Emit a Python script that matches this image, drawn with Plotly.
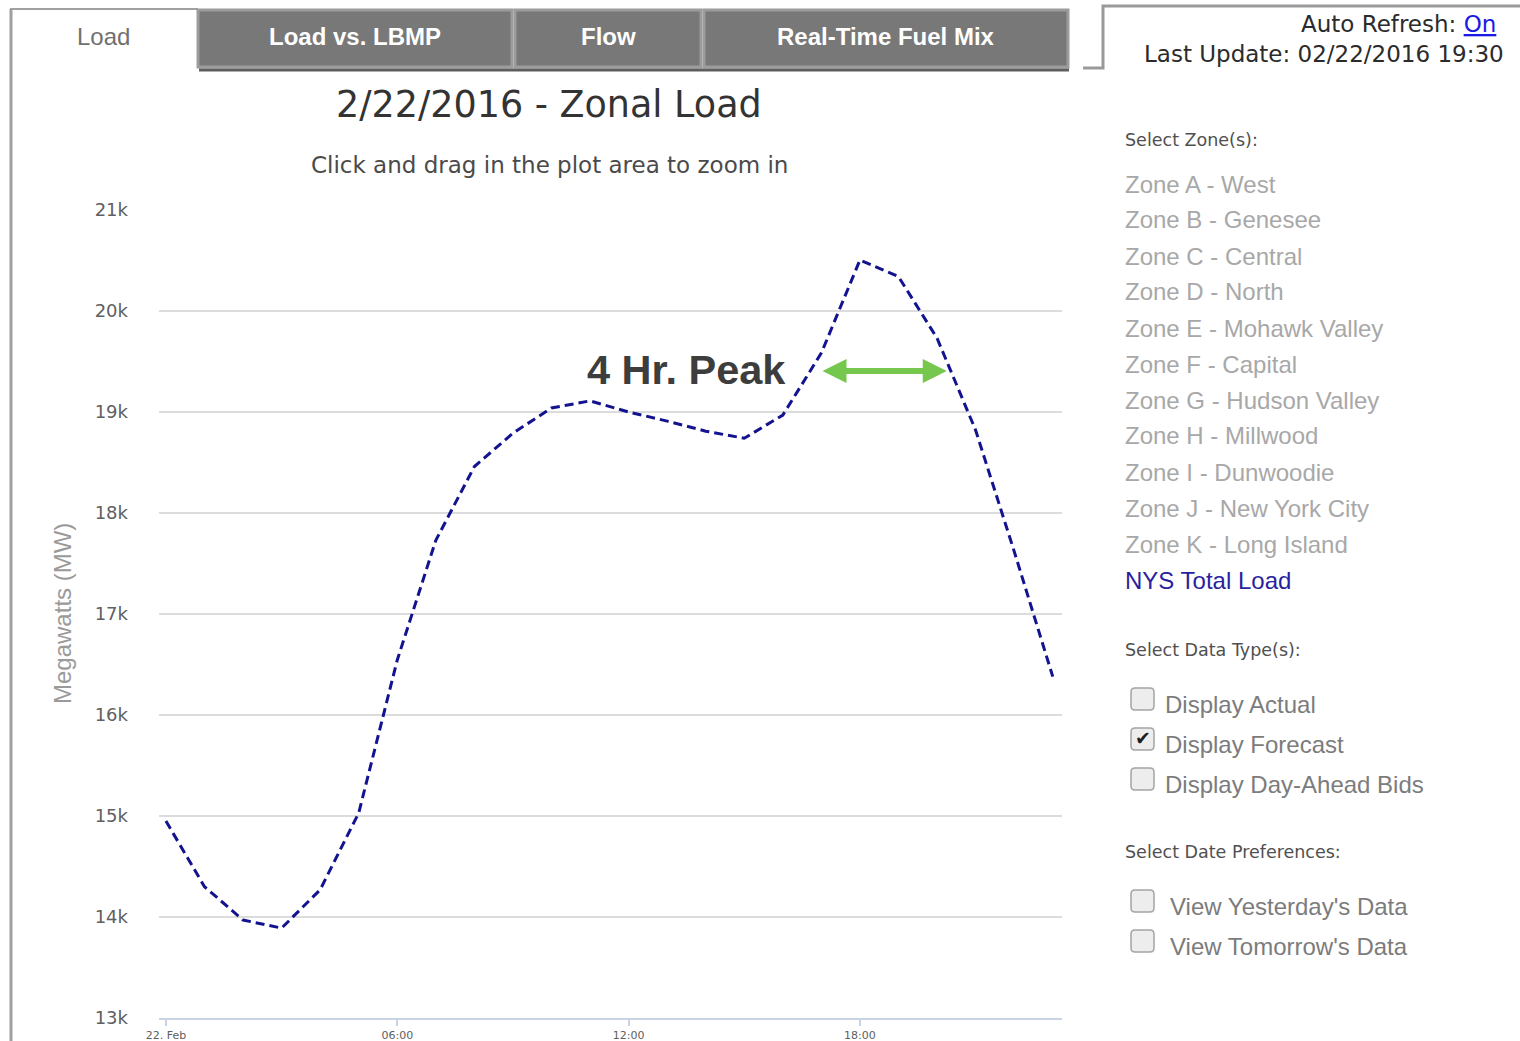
import plotly.graph_objects as go

W, H = 1520, 1041

# ---------------- data ----------------
hours = list(range(24))
forecast_mw = [14950, 14300, 13970, 13890, 14270, 15030, 16545, 17730,
               18460, 18790, 19040, 19110, 19000, 18910, 18810, 18740,
               18970, 19585, 20505, 20340, 19730, 18820, 17620, 16380]
ytick_vals = [13000, 14000, 15000, 16000, 17000, 18000, 19000, 20000, 21000]
ytick_text = ["13k", "14k", "15k", "16k", "17k", "18k", "19k", "20k", "21k"]
xtick_vals = [0, 6, 12, 18]
xtick_text = ["22. Feb", "06:00", "12:00", "18:00"]

title_text = "2/22/2016 - Zonal Load"
subtitle_text = "Click and drag in the plot area to zoom in"
yaxis_title = "Megawatts (MW)"
peak_label = "4 Hr. Peak"
peak_start_hour = 16.99
peak_end_hour = 20.25
peak_arrow_level = 19406

tabs = ["Load", "Load vs. LBMP", "Flow", "Real-Time Fuel Mix"]
zones = ["Zone A - West", "Zone B - Genesee", "Zone C - Central", "Zone D - North",
         "Zone E - Mohawk Valley", "Zone F - Capital", "Zone G - Hudson Valley",
         "Zone H - Millwood", "Zone I - Dunwoodie", "Zone J - New York City",
         "Zone K - Long Island", "NYS Total Load"]
data_types = ["Display Actual", "Display Forecast", "Display Day-Ahead Bids"]
data_types_checked = [False, True, False]
date_prefs = ["View Yesterday's Data", "View Tomorrow's Data"]
date_prefs_checked = [False, False]
last_update = "02/22/2016 19:30"


def px(x):
    return x / W


def py(y):
    return 1 - y / H


def rrect(x0, y0, x1, y1, r):
    pts = [
        ("M", [(x0 + r, y0)]), ("L", [(x1 - r, y0)]), ("Q", [(x1, y0), (x1, y0 + r)]),
        ("L", [(x1, y1 - r)]), ("Q", [(x1, y1), (x1 - r, y1)]), ("L", [(x0 + r, y1)]),
        ("Q", [(x0, y1), (x0, y1 - r)]), ("L", [(x0, y0 + r)]), ("Q", [(x0, y0), (x0 + r, y0)]),
    ]
    s = ""
    for cmd, ps in pts:
        s += cmd + " " + " ".join(f"{px(a):.6f},{py(b):.6f}" for a, b in ps) + " "
    return s + "Z"


fig = go.Figure()
fig.add_trace(go.Scatter(
    x=hours, y=forecast_mw, mode="lines",
    line=dict(color="#13138f", width=3, dash="9px,5px"),
    hoverinfo="skip", showlegend=False,
))

shapes = []
annotations = []

# ---- page frame / tabs ----
shapes.append(dict(type="line", xref="paper", yref="paper", x0=px(11), x1=px(11), y0=py(9), y1=py(1045),
                   line=dict(color="#a0a0a0", width=3)))
shapes.append(dict(type="line", xref="paper", yref="paper", x0=px(10), x1=px(198), y0=py(9), y1=py(9),
                   line=dict(color="#a0a0a0", width=2)))
tab_extents = [(198, 512), (515, 701), (704, 1068)]
for (a, b) in tab_extents:
    shapes.append(dict(type="rect", xref="paper", yref="paper", x0=px(a), x1=px(b), y0=py(67), y1=py(10),
                       fillcolor="#787878", line=dict(color="#9c9c9c", width=3)))
shapes.append(dict(type="line", xref="paper", yref="paper", x0=px(199), x1=px(1069), y0=py(70), y1=py(70),
                   line=dict(color="#5e5e5e", width=3)))

annotations.append(dict(x=px(103), y=py(36), xref="paper", yref="paper", text=tabs[0], showarrow=False,
                        xanchor="center", yanchor="middle",
                        font=dict(family="Liberation Sans, Arial", size=24, color="#707070")))
for label, (a, b) in zip(tabs[1:], tab_extents):
    annotations.append(dict(x=px((a + b) / 2), y=py(36), xref="paper", yref="paper", text=f"<b>{label}</b>",
                            showarrow=False, xanchor="center", yanchor="middle",
                            font=dict(family="Liberation Sans, Arial", size=24, color="#ffffff")))

# ---- right panel frame ----
shapes.append(dict(type="path", xref="paper", yref="paper",
                   path=f"M {px(1083)},{py(68)} L {px(1103)},{py(68)} L {px(1103)},{py(6)} L {px(1522)},{py(6)}",
                   line=dict(color="#9a9a9a", width=3)))
annotations.append(dict(x=px(1498), y=py(24), xref="paper", yref="paper",
                        text="Auto Refresh: <span style='color:#1a1ae6;text-decoration:underline'>On</span>",
                        showarrow=False, xanchor="right", yanchor="middle",
                        font=dict(family="DejaVu Sans", size=23, color="#2b2b2b")))
annotations.append(dict(x=px(1506), y=py(54), xref="paper", yref="paper",
                        text="Last Update: " + last_update,
                        showarrow=False, xanchor="right", yanchor="middle",
                        font=dict(family="DejaVu Sans", size=23, color="#2b2b2b")))

# ---- right panel content ----
hdr_font = dict(family="DejaVu Sans", size=17.5, color="#505050")
for txt, yy in [("Select Zone(s):", 140), ("Select Data Type(s):", 650), ("Select Date Preferences:", 852)]:
    annotations.append(dict(x=px(1123), y=py(yy), xref="paper", yref="paper", text=txt, showarrow=False,
                            xanchor="left", yanchor="middle", font=hdr_font))
for i, z in enumerate(zones):
    col = "#2a1f9e" if z == "NYS Total Load" else "#a8a8a8"
    annotations.append(dict(x=px(1123), y=py(184 + 36 * i), xref="paper", yref="paper", text=z,
                            showarrow=False, xanchor="left", yanchor="middle",
                            font=dict(family="Liberation Sans, Arial", size=24, color=col)))

cb_rows = [(lbl, chk, 1163, 704 + 40 * i) for i, (lbl, chk) in enumerate(zip(data_types, data_types_checked))]
cb_rows += [(lbl, chk, 1168, 906 + 40 * i) for i, (lbl, chk) in enumerate(zip(date_prefs, date_prefs_checked))]
for lbl, chk, lx, yy in cb_rows:
    cy = yy - 5
    shapes.append(dict(type="path", xref="paper", yref="paper", path=rrect(1131, cy - 11, 1154, cy + 11, 4),
                       fillcolor="#ededed", line=dict(color="#a4a4a4", width=1.5)))
    if chk:
        annotations.append(dict(x=px(1142.5), y=py(cy - 1), xref="paper", yref="paper", text="\u2714",
                                showarrow=False, xanchor="center", yanchor="middle",
                                font=dict(family="DejaVu Sans", size=19, color="#1e1e1e")))
    annotations.append(dict(x=px(lx), y=py(yy), xref="paper", yref="paper", text=lbl, showarrow=False,
                            xanchor="left", yanchor="middle",
                            font=dict(family="Liberation Sans, Arial", size=24, color="#7c7c7c")))

# ---- chart titles ----
annotations.append(dict(x=px(549), y=py(104), xref="paper", yref="paper", text=title_text, showarrow=False,
                        xanchor="center", yanchor="middle",
                        font=dict(family="DejaVu Sans", size=36.5, color="#333333")))
annotations.append(dict(x=px(549), y=py(165), xref="paper", yref="paper", text=subtitle_text, showarrow=False,
                        xanchor="center", yanchor="middle",
                        font=dict(family="DejaVu Sans", size=23, color="#4a4a4a")))
annotations.append(dict(x=px(62), y=py(614), xref="paper", yref="paper", text=yaxis_title, showarrow=False,
                        textangle=-90, xanchor="center", yanchor="middle",
                        font=dict(family="Liberation Sans, Arial", size=24, color="#9a9a9a")))

# ---- peak annotation ----
annotations.append(dict(x=px(788), y=py(369), xref="paper", yref="paper", text=f"<b>{peak_label}</b>",
                        showarrow=False, xanchor="right", yanchor="middle",
                        font=dict(family="Liberation Sans, Arial", size=41.5, color="#3d3d3d")))
annotations.append(dict(x=peak_end_hour, y=peak_arrow_level, xref="x", yref="y",
                        ax=peak_start_hour, ay=peak_arrow_level, axref="x", ayref="y",
                        text="", showarrow=True, arrowside="end+start",
                        arrowhead=2, startarrowhead=2, arrowsize=0.8, startarrowsize=0.8,
                        arrowwidth=6, arrowcolor="#76c74e", standoff=0, startstandoff=0))

fig.update_layout(
    width=W, height=H,
    margin=dict(l=0, r=0, t=0, b=0, pad=0),
    paper_bgcolor="#ffffff", plot_bgcolor="#ffffff",
    showlegend=False,
    shapes=shapes, annotations=annotations,
    xaxis=dict(domain=[px(159), px(1062)], range=[-0.18, 23.24], showgrid=False, zeroline=False,
               showline=True, linecolor="#c8d4e6", linewidth=2,
               ticks="outside", ticklen=6, tickwidth=2, tickcolor="#c8d4e6",
               tickvals=xtick_vals, ticktext=xtick_text,
               tickfont=dict(family="DejaVu Sans", size=11, color="#606060"),
               automargin=False, fixedrange=True),
    yaxis=dict(domain=[py(1018), py(210)], range=[13000, 21000], showgrid=True, gridcolor="#dcdcdc",
               gridwidth=2, zeroline=False, showline=False, ticks="",
               tickvals=ytick_vals, ticktext=ytick_text, ticklabelstandoff=30,
               tickfont=dict(family="DejaVu Sans", size=18, color="#606060"),
               automargin=False, fixedrange=True),
)

fig.write_html("out.html", config={"displayModeBar": False},
               post_script="document.body.style.margin='0';document.body.style.overflow='hidden';")
